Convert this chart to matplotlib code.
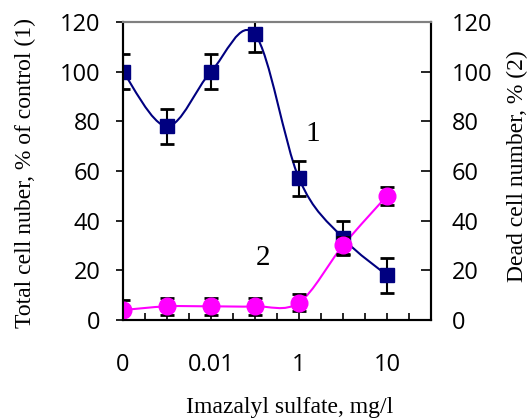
import numpy as np
import matplotlib.pyplot as plt
from matplotlib.path import Path
from matplotlib.patches import PathPatch

# x positions are evenly spaced concentration steps
x_pos = [0, 1, 2, 3, 4, 5, 6]
tick_pos = [0, 2, 4, 6]
tick_labels = ['0', '0.01', '1', '10']

total_cells = [100, 78, 100, 115, 57, 33, 18]
total_err = [7, 7, 7, 7, 7, 7, 7]
dead_cells = [4, 5.5, 5.5, 5.5, 7, 30, 50]
dead_err = [4, 3.5, 3.5, 3.5, 3.5, 3.5, 3.5]

serif = 'Liberation Serif'
sans = 'Open Sans'


def smooth_path(xs, ys):
    # Bezier (Catmull-Rom style) smooth line like spreadsheet "smoothed line"
    pts = np.column_stack([xs, ys]).astype(float)
    n = len(pts)
    verts = [pts[0]]
    codes = [Path.MOVETO]
    for i in range(n - 1):
        p0 = pts[i - 1] if i > 0 else pts[i]
        p1 = pts[i]
        p2 = pts[i + 1]
        p3 = pts[i + 2] if i + 2 < n else pts[i + 1]
        c1 = p1 + (p2 - p0) / 6.0
        c2 = p2 - (p3 - p1) / 6.0
        verts += [c1, c2, p2]
        codes += [Path.CURVE4] * 3
    return Path(verts, codes)


fig = plt.figure(figsize=(5.29, 4.19), dpi=100)
ax = fig.add_axes([0.2325, 0.2363, 0.5822, 0.7112])
ax2 = ax.twinx()

ax.add_patch(PathPatch(smooth_path(x_pos, total_cells), fill=False,
                       edgecolor='#000080', lw=1.5, zorder=2))
ax.add_patch(PathPatch(smooth_path(x_pos, dead_cells), fill=False,
                       edgecolor='#FF00FF', lw=1.5, zorder=3))
ax.errorbar(x_pos, total_cells, yerr=total_err, fmt='s', color='#000080',
            ms=10, ecolor='black', elinewidth=1.5, capsize=5, capthick=2,
            zorder=4)
ax.errorbar(x_pos, dead_cells, yerr=dead_err, fmt='o', color='#FF00FF',
            ms=12, ecolor='black', elinewidth=1.5, capsize=5, capthick=2,
            zorder=5)

ax.text(4.32, 75, '1', fontsize=21, family=serif, ha='center', va='center')
ax.text(3.18, 25, '2', fontsize=21, family=serif, ha='center', va='center')

ax.set_xlim(0, 7)
ax.set_ylim(0, 120)
ax2.set_ylim(0, 120)

ax.set_xticks(tick_pos)
ax.set_xticklabels(tick_labels, fontsize=17, family=sans)
ax.set_xticks(np.arange(0, 7.01, 0.5), minor=True)
ax.tick_params(axis='x', which='both', direction='in', length=5, width=1.2,
               pad=24)

yt = np.arange(0, 121, 20)
ax.set_yticks(yt)
ax.set_yticklabels([str(v) for v in yt], fontsize=17, family=sans)
ax.tick_params(axis='y', direction='out', length=5, width=1.2, pad=11)
ax2.set_yticks(yt)
ax2.set_yticklabels([str(v) for v in yt], fontsize=17, family=sans)
ax2.tick_params(axis='y', direction='in', length=7, width=1.2, pad=15)

for a in (ax, ax2):
    for s in ('left', 'bottom', 'right'):
        a.spines[s].set_linewidth(1.5)
    a.spines['top'].set_color('#808080')
    a.spines['top'].set_linewidth(1.5)

fig.text(290 / 529, 1 - 407 / 419, 'Imazalyl sulfate, mg/l', fontsize=17,
         family=serif, ha='center', va='center')
fig.text(25 / 529, 1 - 173 / 419, 'Total cell nuber, % of control (1)',
         fontsize=17, family=serif, ha='center', va='center', rotation=90)
fig.text(517 / 529, 1 - 166 / 419, 'Dead cell number, % (2)',
         fontsize=17, family=serif, ha='center', va='center', rotation=90)

fig.savefig('out.png', dpi=100)
